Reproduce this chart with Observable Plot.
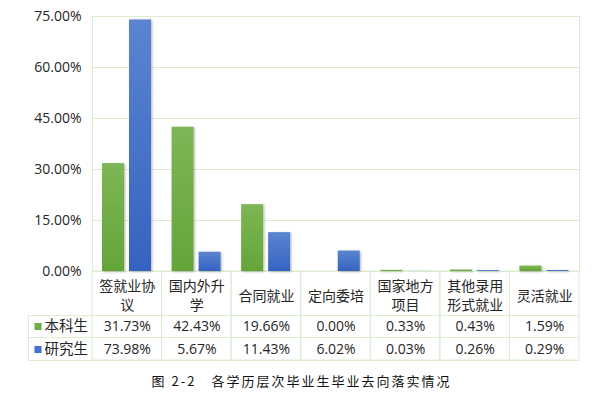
<!DOCTYPE html>
<html><head><meta charset="utf-8">
<script src="https://cdn.jsdelivr.net/npm/d3@7"></script>
<script src="https://cdn.jsdelivr.net/npm/@observablehq/plot@0.6"></script>
<style>
body{margin:0;background:#fff;width:603px;height:398px;overflow:hidden;font-family:"Noto Sans CJK SC","Microsoft YaHei",sans-serif;}
#chart{position:relative;width:603px;height:398px;}
#caption{position:absolute;left:0;top:371px;width:603px;text-align:center;font-size:13px;line-height:20px;letter-spacing:2px;color:#111;}
</style></head><body><div id="chart"></div>
<script>
const categories = ["签就业协议","国内外升学","合同就业","定向委培","国家地方项目","其他录用形式就业","灵活就业"];
const tickLabels = ["签就业协\n议","国内外升\n学","合同就业","定向委培","国家地方\n项目","其他录用\n形式就业","灵活就业"];
const seriesNames = ["本科生","研究生"];
const bachelor = [31.73,42.43,19.66,0.00,0.33,0.43,1.59];
const graduate = [73.98,5.67,11.43,6.02,0.03,0.26,0.29];
const yTicks = [0,15,30,45,60,75];
const captionText = "图 2-2　各学历层次毕业生毕业去向落实情况";

const W = 603, H = 365, ML = 92, MR = 24, MT = 16, MB = 94;
const step = (W - ML - MR) / categories.length;
const rows = categories.map((c, i) => ({category: c, label: tickLabels[i], b: bachelor[i], g: graduate[i]}));
const gridColor = "#dcebd2";
const textColor = "#262626";
const numFont = '"Open Sans","Noto Sans CJK SC",sans-serif';
const fmt = d => d.toFixed(2) + "%";

const chart = Plot.plot({
  width: W, height: H,
  marginLeft: ML, marginRight: MR, marginTop: MT, marginBottom: MB,
  style: {fontFamily: '"Noto Sans CJK SC","Microsoft YaHei",sans-serif', fontSize: "14px", color: textColor, background: "transparent", overflow: "visible"},
  x: {domain: categories, padding: 0, round: false, axis: null},
  y: {domain: [0, 75], label: null, axis: null},
  marks: [
    Plot.gridY(yTicks, {stroke: gridColor, strokeOpacity: 1, strokeWidth: 1}),
    Plot.frame({stroke: gridColor, strokeWidth: 1}),
    // table cells under each category
    Plot.barY(rows, {x: "category", y1: 0, y2: 0, insetBottom: -89, fill: "none", stroke: gridColor, strokeWidth: 1}),
    Plot.ruleY([0], {dy: 44, insetLeft: -64, stroke: gridColor}),
    Plot.ruleY([0], {dy: 66, insetLeft: -64, stroke: gridColor}),
    Plot.ruleY([0], {dy: 89, insetLeft: -64, stroke: gridColor}),
    Plot.ruleX([categories[0]], {y1: 0, y2: 0, insetTop: 44, insetBottom: -89, dx: -(step / 2 + 64), stroke: gridColor}),
    // bars
    Plot.barY(rows, {x: "category", y: "b", fill: "url(#gGreen)", insetLeft: 10, insetRight: step - 32}),
    Plot.barY(rows, {x: "category", y: "g", fill: "url(#gBlue)", insetLeft: 37, insetRight: step - 59}),
    // y axis
    Plot.axisY(yTicks, {tickFormat: fmt, tickSize: 0, tickPadding: 11, fontSize: 14, fontFamily: numFont, fill: textColor, label: null}),
    // table header labels
    Plot.text(rows, {x: "category", text: "label", frameAnchor: "bottom", dy: 23, lineAnchor: "middle", lineHeight: 1.35, fontSize: 14, fill: textColor}),
    // table values
    Plot.text(rows, {x: "category", text: d => fmt(d.b), frameAnchor: "bottom", dy: 55, lineAnchor: "middle", fontSize: 14, fontFamily: numFont, fill: textColor}),
    Plot.text(rows, {x: "category", text: d => fmt(d.g), frameAnchor: "bottom", dy: 78, lineAnchor: "middle", fontSize: 14, fontFamily: numFont, fill: textColor}),
    // legend column
    Plot.dot([seriesNames[0]], {frameAnchor: "bottom-left", dx: -54.5, dy: 55, symbol: "square", r: 4, fill: "#70ad47", stroke: "none"}),
    Plot.dot([seriesNames[1]], {frameAnchor: "bottom-left", dx: -54.5, dy: 78, symbol: "square", r: 4, fill: "#4472c4", stroke: "none"}),
    Plot.text([seriesNames[0]], {frameAnchor: "bottom-left", text: d => d, dx: -48, dy: 55, textAnchor: "start", lineAnchor: "middle", fontSize: 14.5, fill: textColor}),
    Plot.text([seriesNames[1]], {frameAnchor: "bottom-left", text: d => d, dx: -48, dy: 78, textAnchor: "start", lineAnchor: "middle", fontSize: 14.5, fill: textColor})
  ]
});

const svg = d3.select(chart);
const defs = svg.insert("defs", ":first-child");
const gg = defs.append("linearGradient").attr("id", "gGreen").attr("x1", 0).attr("y1", 0).attr("x2", 0).attr("y2", 1);
gg.append("stop").attr("offset", "0%").attr("stop-color", "#7db655");
gg.append("stop").attr("offset", "100%").attr("stop-color", "#64a53a");
const gb = defs.append("linearGradient").attr("id", "gBlue").attr("x1", 0).attr("y1", 0).attr("x2", 0).attr("y2", 1);
gb.append("stop").attr("offset", "0%").attr("stop-color", "#5b84d0");
gb.append("stop").attr("offset", "100%").attr("stop-color", "#3563c1");
const f = defs.append("filter").attr("id", "shadow").attr("x", "-20%").attr("y", "-5%").attr("width", "150%").attr("height", "115%");
f.append("feDropShadow").attr("dx", 1.2).attr("dy", 0.8).attr("stdDeviation", 0.9).attr("flood-color", "#000").attr("flood-opacity", 0.28);
svg.selectAll("g[fill^='url(#g']").attr("filter", "url(#shadow)");

const container = document.getElementById("chart");
container.appendChild(chart);
const cap = document.createElement("div");
cap.id = "caption";
cap.textContent = captionText;
container.appendChild(cap);
</script>
</body></html>
